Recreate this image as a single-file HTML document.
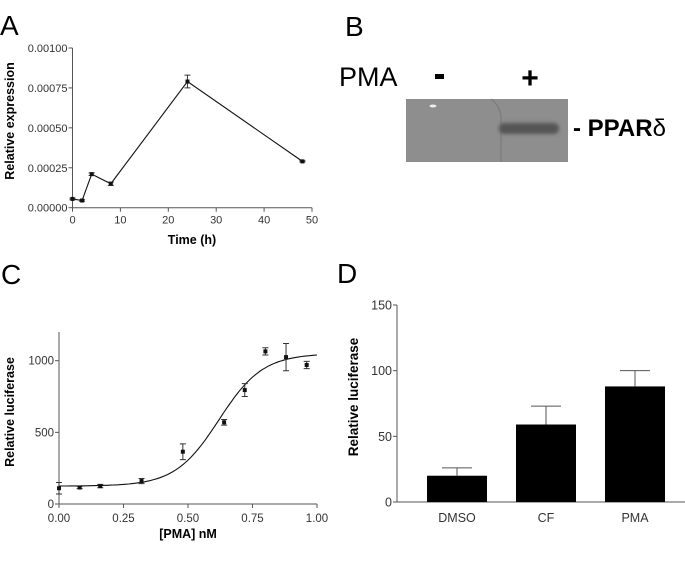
<!DOCTYPE html>
<html><head><meta charset="utf-8"><style>
html,body{margin:0;padding:0;background:#fff;}
svg{display:block;font-family:"Liberation Sans",Arial,sans-serif;}
</style></head><body>
<svg width="685" height="571" viewBox="0 0 685 571" xmlns="http://www.w3.org/2000/svg">
<defs><filter id="blur" x="-20%" y="-50%" width="140%" height="200%"><feGaussianBlur stdDeviation="1.8"/></filter></defs>
<g id="gA"></g>
<g id="gB">
  <text x="345" y="36" font-size="28">B</text>
  <text x="339" y="86" font-size="27">PMA</text>
  <rect x="435" y="74" width="9" height="5" fill="#000"/>
  <text x="530" y="88" font-size="30" font-weight="bold" text-anchor="middle">+</text>
  <rect x="406" y="99" width="162" height="63" fill="#8e8e8e"/>
  <ellipse cx="433" cy="106" rx="3.5" ry="1.5" fill="#eee"/>
  <path d="M491 99 Q502 108 501 120 L501 162" stroke="#777" stroke-width="1" fill="none"/>
  <rect x="499" y="123" width="60" height="11" rx="5" fill="#555" filter="url(#blur)"/>
  <text x="573" y="136" font-size="24" font-weight="bold">- PPAR<tspan font-weight="normal">δ</tspan></text>
</g>
<g id="gC"></g>
<g id="gD"></g>
</svg>
<script>
// Panel A data
const timeA = [0, 2, 4, 8, 24, 48];
const exprA = [0.000055, 0.000045, 0.00021, 0.00015, 0.00079, 0.00029];
const errA = [0.000005, 0.000005, 0.000008, 0.00001, 0.00004, 0.000004];
const ticksAx = [0, 10, 20, 30, 40, 50];
const ticksAy = [0, 0.00025, 0.0005, 0.00075, 0.001];
const tickLabelsAy = ["0.00000", "0.00025", "0.00050", "0.00075", "0.00100"];
// Panel C data
const doseC = [0, 0.08, 0.16, 0.32, 0.48, 0.64, 0.72, 0.80, 0.88, 0.96];
const lucC = [110, 115, 125, 160, 365, 570, 795, 1065, 1025, 970];
const errC = [40, 8, 12, 18, 55, 20, 45, 25, 95, 25];
const fitC = [125, 1050, 0.62, 0.085]; // bottom, top, midpoint, slope
const ticksCx = [0, 0.25, 0.5, 0.75, 1.0];
const tickLabelsCx = ["0.00", "0.25", "0.50", "0.75", "1.00"];
const ticksCy = [0, 500, 1000];
// Panel D data
const catsD = ["DMSO", "CF", "PMA"];
const valsD = [20, 59, 88];
const errD = [6, 14, 12];
const ticksDy = [0, 50, 100, 150];

const NS = "http://www.w3.org/2000/svg";
function mk(parent, tag, attrs, text) {
  const e = document.createElementNS(NS, tag);
  for (const k in attrs) e.setAttribute(k, attrs[k]);
  if (text !== undefined) e.textContent = text;
  parent.appendChild(e);
  return e;
}
const AX = "#555";

// ---------- Panel A ----------
(function(){
  const g = document.getElementById('gA');
  const x = t => 72.5 + t * (312 - 72.5) / 50;
  const y = v => 207.7 - v * (207.7 - 48) / 0.001;
  let e = mk(g,'text',{x:0,y:35,'font-size':28}, 'A');
   
  e = mk(g,'line',{x1:x(0),y1:y(0.001),x2:x(0),y2:y(0),stroke:AX,'stroke-width':1});
   
  e = mk(g,'line',{x1:x(0),y1:y(0),x2:x(50),y2:y(0),stroke:AX,'stroke-width':1});
   
  ticksAy.forEach((v,i)=>{
    mk(g,'line',{x1:x(0)-4,y1:y(v),x2:x(0),y2:y(v),stroke:AX});
    e = mk(g,'text',{x:x(0)-5,y:y(v)+4,'font-size':11,'text-anchor':'end',fill:'#333'}, tickLabelsAy[i]);
     
  });
  ticksAx.forEach(t=>{
    mk(g,'line',{x1:x(t),y1:y(0),x2:x(t),y2:y(0)+4,stroke:AX});
    e = mk(g,'text',{x:x(t),y:y(0)+16,'font-size':11,'text-anchor':'middle',fill:'#333'}, String(t));
     
  });
  e = mk(g,'text',{x:192,y:244,'font-size':12.5,'font-weight':'bold','text-anchor':'middle'}, 'Time (h)');
   
  e = mk(g,'text',{x:0,y:0,'font-size':12.5,'font-weight':'bold','text-anchor':'middle',transform:'translate(14,121) rotate(-90)'}, 'Relative expression');
   
  e = mk(g,'polyline',{points:timeA.map((t,i)=>x(t)+','+y(exprA[i])).join(' '),fill:'none',stroke:'#111','stroke-width':1.1});
   
  timeA.forEach((t,i)=>{
    const cx=x(t), y1=y(exprA[i]+errA[i]), y2=y(exprA[i]-errA[i]);
    mk(g,'path',{d:`M${cx} ${y1}V${y2}M${cx-3} ${y1}H${cx+3}M${cx-3} ${y2}H${cx+3}`,stroke:'#333','stroke-width':1,fill:'none'});
    e = mk(g,'rect',{x:cx-2,y:y(exprA[i])-2,width:4,height:4,fill:'#111'});
     
  });
})();

// ---------- Panel C ----------
(function(){
  const g = document.getElementById('gC');
  const x = d => 59 + d * (317 - 59);
  const y = v => 504 - v * (504 - 360.7) / 1000;
  let e = mk(g,'text',{x:1,y:284,'font-size':28}, 'C');
   
  e = mk(g,'line',{x1:x(0),y1:332,x2:x(0),y2:y(0),stroke:AX});
   
  e = mk(g,'line',{x1:x(0),y1:y(0),x2:x(1),y2:y(0),stroke:AX});
   
  ticksCy.forEach(v=>{
    mk(g,'line',{x1:x(0)-4,y1:y(v),x2:x(0),y2:y(v),stroke:AX});
    e = mk(g,'text',{x:x(0)-5,y:y(v)+4,'font-size':11.5,'text-anchor':'end',fill:'#333'}, String(v));
     
  });
  ticksCx.forEach((d,i)=>{
    mk(g,'line',{x1:x(d),y1:y(0),x2:x(d),y2:y(0)+4,stroke:AX});
    e = mk(g,'text',{x:x(d),y:y(0)+18,'font-size':11.5,'text-anchor':'middle',fill:'#333'}, tickLabelsCx[i]);
     
  });
  e = mk(g,'text',{x:188,y:538,'font-size':12.5,'font-weight':'bold','text-anchor':'middle'}, '[PMA] nM');
   
  e = mk(g,'text',{x:0,y:0,'font-size':12.5,'font-weight':'bold','text-anchor':'middle',transform:'translate(14,412) rotate(-90)'}, 'Relative luciferase');
   
  const pts=[];
  for(let i=0;i<=100;i++){const d=i/100;const v=fitC[0]+(fitC[1]-fitC[0])/(1+Math.exp(-(d-fitC[2])/fitC[3]));pts.push(x(d).toFixed(1)+','+y(v).toFixed(1));}
  e = mk(g,'polyline',{points:pts.join(' '),fill:'none',stroke:'#111','stroke-width':1.1});
   
  doseC.forEach((d,i)=>{
    const cx=x(d), y1=y(lucC[i]+errC[i]), y2=y(lucC[i]-errC[i]);
    mk(g,'path',{d:`M${cx} ${y1}V${y2}M${cx-3} ${y1}H${cx+3}M${cx-3} ${y2}H${cx+3}`,stroke:'#333',fill:'none'});
    e = mk(g,'rect',{x:cx-2,y:y(lucC[i])-2,width:4,height:4,fill:'#111'});
     
  });
})();

// ---------- Panel D ----------
(function(){
  const g = document.getElementById('gD');
  const y = v => 502 - v * (502 - 305) / 150;
  const bx = i => 427 + i * 89, bw = 60;
  let e = mk(g,'text',{x:337,y:283,'font-size':28}, 'D');
   
  e = mk(g,'line',{x1:397,y1:y(150),x2:397,y2:y(0),stroke:AX});
   
  e = mk(g,'line',{x1:393,y1:y(0),x2:685,y2:y(0),stroke:AX});
   
  ticksDy.forEach(v=>{
    mk(g,'line',{x1:393,y1:y(v),x2:397,y2:y(v),stroke:AX});
    e = mk(g,'text',{x:392,y:y(v)+4.5,'font-size':12.5,'text-anchor':'end',fill:'#333'}, String(v));
     
  });
  e = mk(g,'text',{x:0,y:0,'font-size':13.5,'font-weight':'bold','text-anchor':'middle',transform:'translate(358,397) rotate(-90)'}, 'Relative luciferase');
   
  catsD.forEach((c,i)=>{
    const cx = bx(i)+bw/2;
    mk(g,'path',{d:`M${cx} ${y(valsD[i])}V${y(valsD[i]+errD[i])}M${cx-15} ${y(valsD[i]+errD[i])}H${cx+15}`,stroke:'#555','stroke-width':1,fill:'none'});
    e = mk(g,'rect',{x:bx(i),y:y(valsD[i]),width:bw,height:y(0)-y(valsD[i]),fill:'#000'});
     
    e = mk(g,'text',{x:cx,y:522,'font-size':12.5,'text-anchor':'middle',fill:'#333'}, c);
     
  });
})();
</script>
</body></html>
